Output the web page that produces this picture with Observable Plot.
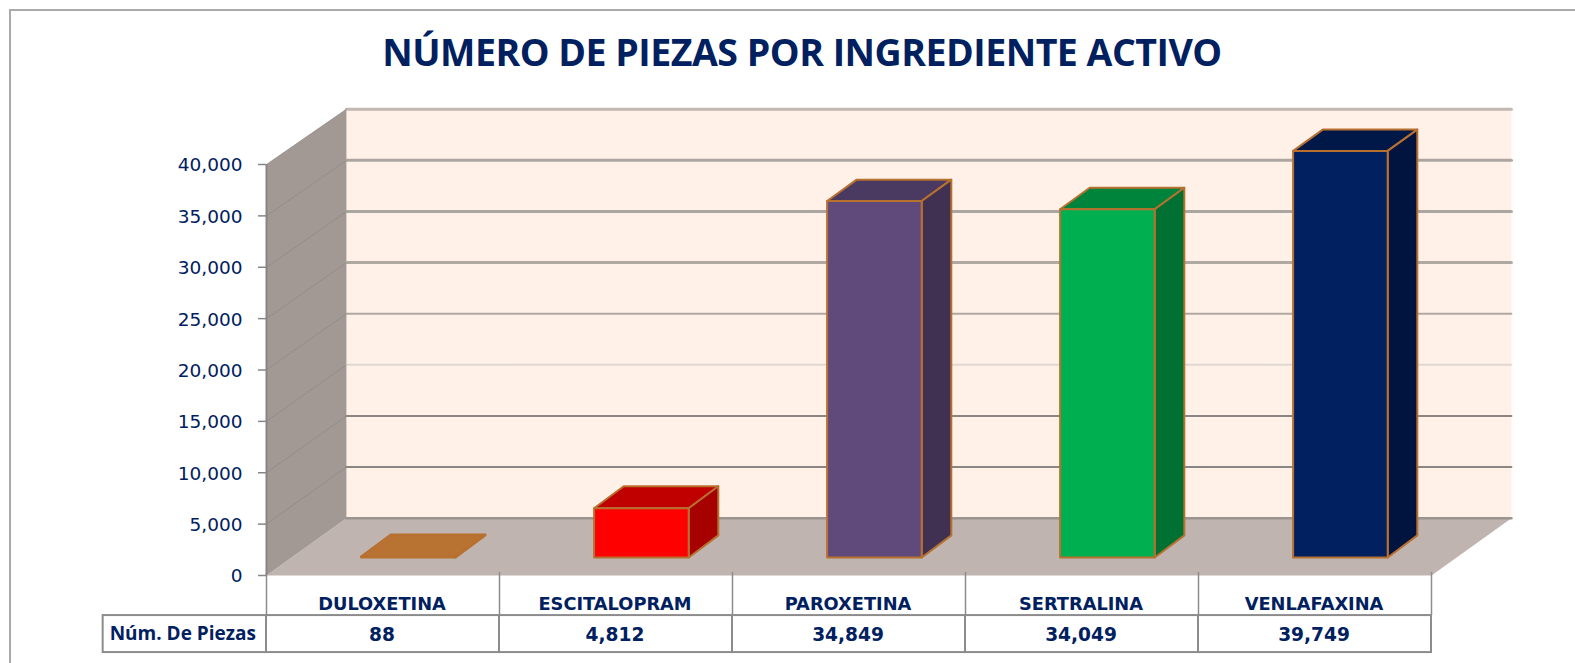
<!DOCTYPE html>
<html lang="es">
<head>
<meta charset="utf-8">
<title>Número de piezas por ingrediente activo</title>
<script src="https://cdn.jsdelivr.net/npm/d3@7"></script>
<script src="https://cdn.jsdelivr.net/npm/@observablehq/plot@0.6"></script>
<style>
  html, body { margin: 0; padding: 0; background: #fff; }
  #page { position: relative; width: 1575px; height: 663px; overflow: hidden; }
  #frame { position: absolute; left: 9px; top: 9px; width: 1580px; height: 670px; border: 2px solid #aaa; box-sizing: border-box; pointer-events: none; }
  #title { position: absolute; left: 0; top: 28px; width: 1604px; margin: 0; text-align: center;
           font: 700 37.5px/48px "Open Sans", sans-serif; color: #002060; letter-spacing: -0.5px; }
  #chart { position: absolute; left: 0; top: 100px; }
  #chart svg { overflow: visible; background: transparent; display: block; }
</style>
</head>
<body>
<div id="page">
  <div id="frame"></div>
  <h1 id="title">NÚMERO DE PIEZAS POR INGREDIENTE ACTIVO</h1>
  <div id="chart"></div>
</div>
<script>
// ---- Data ----
const categories = ["DULOXETINA", "ESCITALOPRAM", "PAROXETINA", "SERTRALINA", "VENLAFAXINA"];
const values = [88, 4812, 34849, 34049, 39749];
const rowLabel = "Núm. De Piezas";
const yTicks = [0, 5000, 10000, 15000, 20000, 25000, 30000, 35000, 40000];

// ---- Colours ----
const frontColors = ["#b87333", "#ff0000", "#604a7b", "#00b050", "#002060"];
const topColors   = ["#b87333", "#c00000", "#4a3a62", "#00843c", "#001848"];
const sideColors  = ["#8e5826", "#a60000", "#403152", "#007033", "#00143f"];
// Style of the line on the back wall for each tick (the first is the floor edge, the last the wall's top edge)
const gridColors  = ["#9c9490", "#8a8684", "#8a8684", "#e0d8d2", "#b0a8a2", "#b0a8a2", "#aca6a2", "#aca6a2", "#c2b8b1"];
const gridWidths  = [2.5, 2, 2, 2, 2, 3, 3, 3, 3];
const NAVY = "#002060", EDGE = "#b8702f", RULE = "#8c8c8c";

// ---- 3D projection expressed in data units: depth d runs 0 (front) to 1 (back) ----
const DX = 0.343, DY = 5577, BACK_SHRINK = 0.005;
const project = (x, v, d) => ({x: x + d * DX, y: v * (1 - d * BACK_SHRINK) + d * DY});
const BAR_X0 = 0.298, BAR_X1 = 0.704;       // bar span inside its category
const BAR_D0 = 0.315, BAR_D1 = 0.70;        // bar span in depth
const BAR_TAPER = 0.005, BAR_SCALE = 0.997; // perspective foreshortening of the bars
const TABLE_TOP = -3900, TABLE_BOTTOM = -7500, LABEL_CELL_X = -0.701, N = categories.length;
const HEAD_Y = -2780;

const poly = (id, fill, stroke, pts) => pts.map(([x, v, d]) => ({id, fill, stroke, ...project(x, v, d)}));

const walls = [
  ...poly("back", "#fff0e8", "none", [[0, 0, 1], [N, 0, 1], [N, 40000, 1], [0, 40000, 1]]),
  ...poly("floor", "#bfb4af", "none", [[0, 0, 0], [N, 0, 0], [N, 0, 1], [0, 0, 1]]),
  ...poly("left", "#a29994", "none", [[0, 0, 0], [0, 0, 1], [0, 40000, 1], [0, 40000, 0]])
];

const backLines = yTicks.flatMap((v, i) => [[0, v, 1], [N, v, 1]].map(([x, w, d]) => ({
  id: i, color: gridColors[i], width: gridWidths[i], ...project(x, w, d)
})));
const sideLines = yTicks.slice(1).flatMap((v, i) => [[0, v, 0], [0, v, 1]].map(([x, w, d]) => ({id: i, ...project(x, w, d)})));

const barFaces = categories.flatMap((c, i) => {
  const x0 = i + BAR_X0, x1 = i + BAR_X1, v = values[i] * BAR_SCALE;
  const bx0 = x0 - BAR_TAPER, bx1 = x1 - BAR_TAPER;
  return [
    ...poly(c + "-top", topColors[i], EDGE, [[x0, v, BAR_D0], [x1, v, BAR_D0], [bx1, v, BAR_D1], [bx0, v, BAR_D1]]),
    ...poly(c + "-side", sideColors[i], EDGE, [[x1, 0, BAR_D0], [bx1, 0, BAR_D1], [bx1, v, BAR_D1], [x1, v, BAR_D0]]),
    ...poly(c + "-front", frontColors[i], EDGE, [[x0, 0, BAR_D0], [x1, 0, BAR_D0], [x1, v, BAR_D0], [x0, v, BAR_D0]])
  ];
});

const closed = {x: "x", y: "y", z: "id", curve: "linear-closed"};
const rows = categories.map((c, i) => ({c, i, v: values[i]}));
const num = d3.format(",");

const chart = Plot.plot({
  width: 1575, height: 563,
  marginLeft: 266, marginRight: 144, marginTop: 64, marginBottom: 88,
  x: {domain: [0, N], axis: null},
  y: {domain: [0, 40000], axis: null},
  marks: [
    Plot.line(walls, {...closed, fill: "fill", stroke: "none"}),
    Plot.line(backLines, {x: "x", y: "y", z: "id", stroke: "color", strokeWidth: "width"}),
    Plot.line(sideLines, {x: "x", y: "y", z: "id", stroke: "#8f8a86", strokeWidth: 1, strokeOpacity: 0.8}),
    Plot.ruleX([0], {y1: 0, y2: 40000, stroke: "#868686", strokeWidth: 2}),
    Plot.axisY({ticks: yTicks, text: null, label: null, anchor: "left", tickSize: 8, stroke: "#868686", strokeWidth: 1.5}),
    Plot.axisY({ticks: yTicks, tickFormat: num, label: null, anchor: "left", tickSize: 0, tickPadding: 24, dy: 1,
                fill: NAVY, fontSize: 18.5, fontFamily: "DejaVu Sans"}),
    Plot.line(barFaces, {...closed, fill: "fill", stroke: "stroke", strokeWidth: 2}),
    // table under the chart
    Plot.ruleX(d3.range(N + 1), {y1: 300, y2: TABLE_TOP, stroke: RULE, strokeWidth: 1.5}),
    Plot.rect([-1].concat(d3.range(N)), {
      x1: i => i < 0 ? LABEL_CELL_X : i, x2: i => i < 0 ? 0 : i + 1,
      y1: TABLE_BOTTOM, y2: TABLE_TOP, fill: "#fff", stroke: RULE, strokeWidth: 2
    }),
    Plot.text(rows, {x: d => d.i + 0.5, y: HEAD_Y, text: "c", fill: NAVY, fontWeight: 700, fontSize: 17.8,
                     fontFamily: "DejaVu Sans", textAnchor: "middle", dx: -1}),
    Plot.text(rows, {x: d => d.i + 0.5, y: (TABLE_TOP + TABLE_BOTTOM) / 2, text: d => num(d.v), fill: NAVY, fontWeight: 700,
                     fontSize: 18.6, fontFamily: "DejaVu Sans", textAnchor: "middle", dy: 1, dx: -1}),
    Plot.text([rowLabel], {x: LABEL_CELL_X / 2, y: (TABLE_TOP + TABLE_BOTTOM) / 2, text: d => d, fill: NAVY, fontWeight: 700,
                     fontSize: 19, fontFamily: "Open Sans", textAnchor: "middle", dx: -2})
  ]
});
document.getElementById("chart").append(chart);
</script>
</body>
</html>
